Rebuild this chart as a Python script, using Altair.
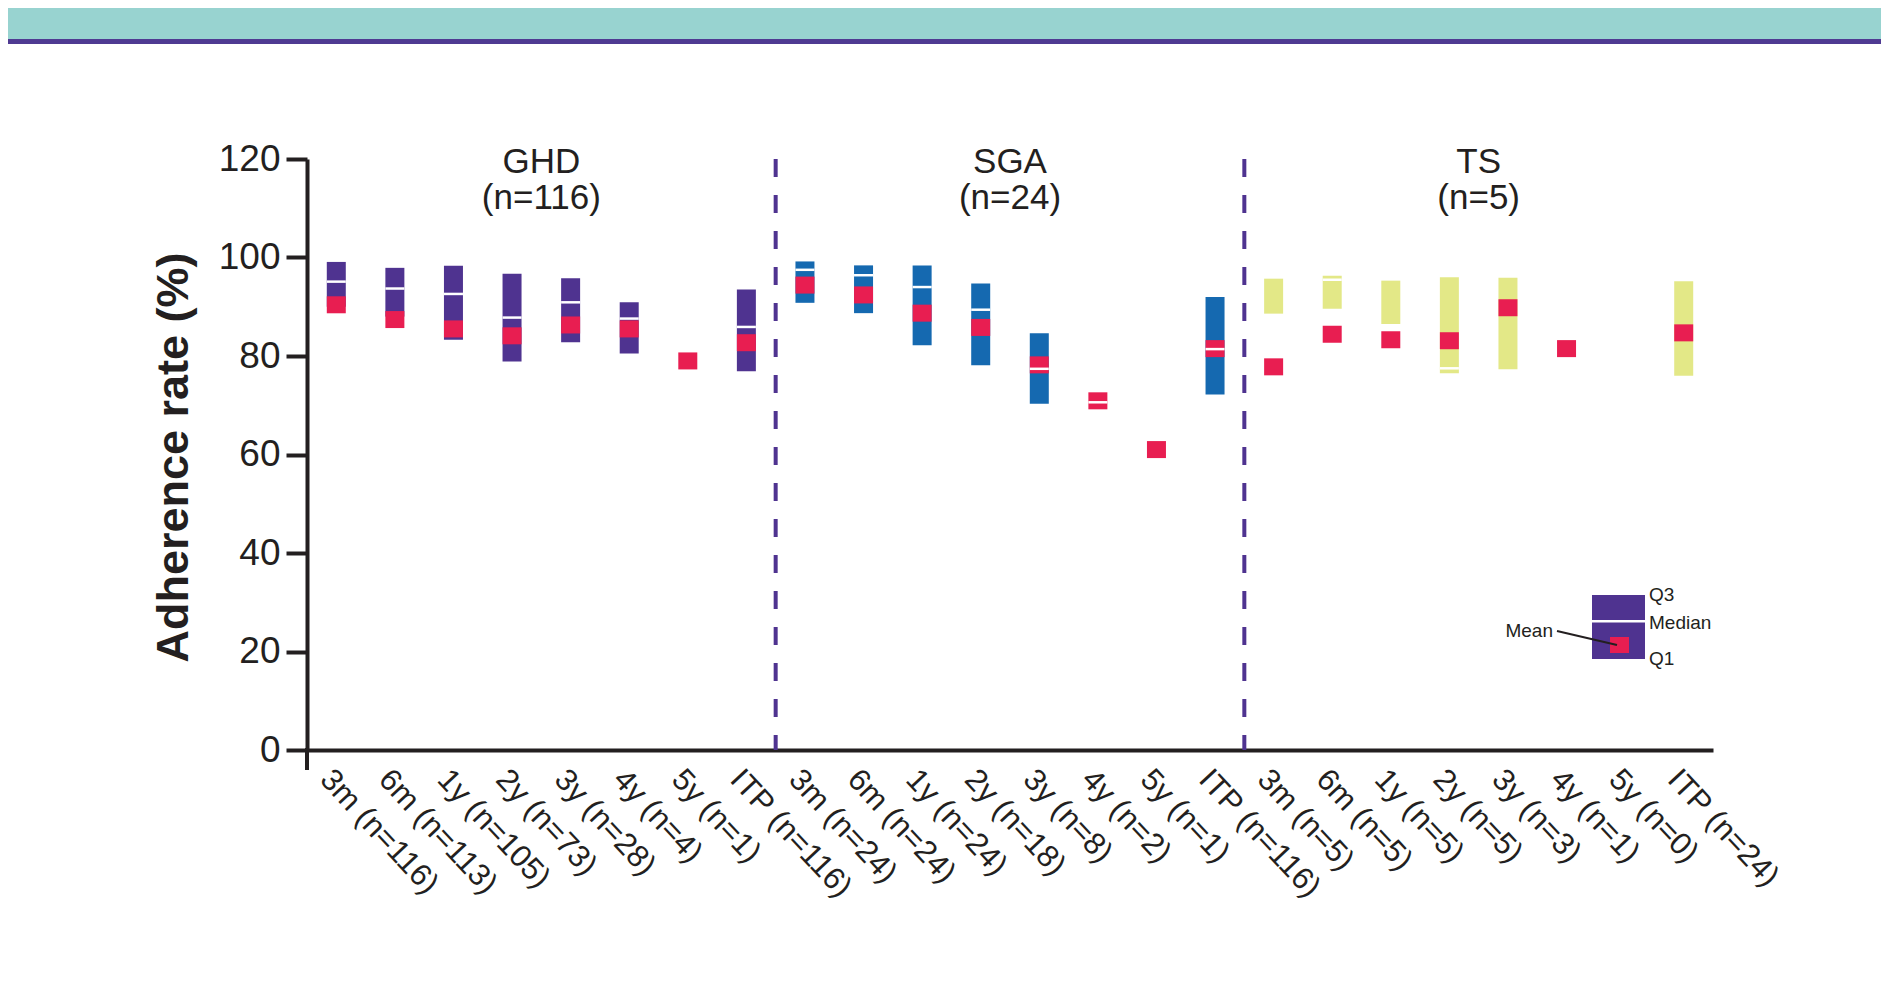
import altair as alt
import pandas as pd

# ---------------- data ----------------
groups = ["GHD"] * 8 + ["SGA"] * 8 + ["TS"] * 8
labels = ["3m (n=116)", "6m (n=113)", "1y (n=105)", "2y (n=73)", "3y (n=28)", "4y (n=4)", "5y (n=1)", "ITP (n=116)",
          "3m (n=24)", "6m (n=24)", "1y (n=24)", "2y (n=18)", "3y (n=8)", "4y (n=2)", "5y (n=1)", "ITP (n=116)",
          "3m (n=5)", "6m (n=5)", "1y (n=5)", "2y (n=5)", "3y (n=3)", "4y (n=1)", "5y (n=0)", "ITP (n=24)"]
q3 = [99.1, 97.9, 98.3, 96.7, 95.8, 90.9, None, 93.5,
      99.2, 98.4, 98.4, 94.7, 84.6, None, None, 92.0,
      95.7, 96.3, 95.3, 96.0, 95.9, None, None, 95.2]
median = [95.1, 93.7, 92.6, 87.8, 90.9, 87.6, None, 85.9,
          97.5, 96.4, 94.0, 89.4, 77.4, 70.6, None, 81.4,
          None, 95.5, None, 77.5, None, None, None, None]
q1 = [90.0, 88.0, 83.3, 78.9, 82.8, 80.5, None, 76.9,
      90.8, 88.7, 82.2, 78.1, 70.3, None, None, 72.2,
      88.6, 89.6, 86.5, 76.5, 77.3, None, None, 76.0]
mean = [90.4, 87.4, 85.5, 84.1, 86.3, 85.5, 79.0, 82.7,
        94.4, 92.4, 88.7, 85.8, 78.2, 70.9, 61.0, 81.5,
        77.8, 84.4, 83.3, 83.1, 89.8, 81.5, None, 84.7]

group_names = ["GHD", "SGA", "TS"]
group_n = ["(n=116)", "(n=24)", "(n=5)"]
group_colors = ["#4f3390", "#1569b0", "#e3e887"]

y_ticks = [0, 20, 40, 60, 80, 100, 120]

# ---------------- styles ----------------
FONT = "Liberation Sans"
DARK = "#231f20"
RED = "#e81e51"
PURPLE = "#4f3390"

keys = [f"{g}|{l}" for g, l in zip(groups, labels)]
gn = dict(zip(group_names, group_n))
df = pd.DataFrame({
    "key": keys, "group": groups, "label": labels,
    "q1": q1, "median": median, "q3": q3, "mean": mean,
    "gn": [gn[g] for g in groups],
})

BOXW = 19


def xenc(**kw):
    return alt.X(
        "key:N", sort=keys,
        scale=alt.Scale(domain=keys, paddingInner=0, paddingOuter=0),
        axis=alt.Axis(
            labelExpr="split(datum.value, '|')[1]", labelAngle=47, labelAlign="left",
            labelBaseline="top", labelFontSize=31, labelFont=FONT, labelColor=DARK,
            labelPadding=14, ticks=False, domainWidth=4, domainColor=DARK,
            labelLimit=500, labelOverlap=False, labelBound=False, labelFlush=False,
            title=None,
        ),
        **kw,
    )


yscale = alt.Scale(domain=[0, 120], nice=False, zero=True)
yaxis = alt.Axis(
    values=y_ticks, domainWidth=4, domainColor=DARK, tickSize=21, tickWidth=4,
    tickColor=DARK, labelFontSize=37, labelFont=FONT, labelColor=DARK, labelPadding=6,
    title="Adherence rate (%)", titleFontSize=45, titleFont=FONT, titleFontWeight="bold",
    titleColor=DARK, titleX=-134, titleY=298, titleAngle=270, titleAlign="center",
    titleBaseline="middle", grid=False,
)

base = alt.Chart(df)

boxes = base.transform_filter("isValid(datum.q1) && isValid(datum.q3)").mark_bar(size=BOXW).encode(
    x=xenc(),
    y=alt.Y("q1:Q", scale=yscale, axis=yaxis),
    y2="q3:Q",
    color=alt.Color("group:N", scale=alt.Scale(domain=group_names, range=group_colors), legend=None),
)

means = base.transform_filter("isValid(datum.mean)").mark_tick(
    thickness=17, size=BOXW, color=RED, opacity=1
).encode(x=xenc(), y=alt.Y("mean:Q", scale=yscale))

medians = base.transform_filter("isValid(datum.median)").mark_tick(
    thickness=2.5, size=BOXW, color="white", opacity=1
).encode(x=xenc(), y=alt.Y("median:Q", scale=yscale))

seps = base.transform_filter(
    "indexof(datum.label, '3m') == 0 && datum.group != 'GHD'"
).mark_rule(color=PURPLE, strokeWidth=4, strokeDash=[18, 18]).encode(
    x=xenc(bandPosition=0), y=alt.datum(120), y2=alt.datum(0)
)

hdr1 = base.transform_filter("indexof(datum.label, '3y') == 0").mark_text(
    fontSize=35, font=FONT, color=DARK, baseline="middle"
).encode(x=xenc(bandPosition=0), y=alt.value(3), text="group:N")

hdr2 = base.transform_filter("indexof(datum.label, '3y') == 0").mark_text(
    fontSize=35, font=FONT, color=DARK, baseline="middle"
).encode(x=xenc(bandPosition=0), y=alt.value(39), text="gn:N")

one = alt.Data(values=[{"a": 1}])

# axis extension below the cross
yext = alt.Chart(one).mark_rule(color=DARK, strokeWidth=4).encode(
    x=alt.value(0), y=alt.value(589), y2=alt.value(611)
)

# top banner
banner = alt.Chart(one).mark_rect(color="#98d3d0").encode(
    x=alt.value(-310), x2=alt.value(1590), y=alt.value(-160), y2=alt.value(-120)
)
banner_line = alt.Chart(one).mark_rect(color="#4f3a92").encode(
    x=alt.value(-310), x2=alt.value(1590), y=alt.value(-120), y2=alt.value(-115)
)

# explanatory key
leg_box = alt.Chart(one).mark_rect(color=PURPLE).encode(
    x=alt.value(1285), x2=alt.value(1338), y=alt.value(436), y2=alt.value(500)
)
leg_med = alt.Chart(one).mark_rect(color="white").encode(
    x=alt.value(1285), x2=alt.value(1338), y=alt.value(461), y2=alt.value(463.5)
)
leg_mean = alt.Chart(one).mark_rect(color=RED).encode(
    x=alt.value(1303), x2=alt.value(1322), y=alt.value(478), y2=alt.value(494)
)
leg_lead = alt.Chart(one).mark_rule(color=DARK, strokeWidth=2).encode(
    x=alt.value(1250), y=alt.value(472), x2=alt.value(1310), y2=alt.value(486)
)


def leg_text(txt, x, y, align="left"):
    return alt.Chart(one).mark_text(
        text=txt, fontSize=19, font=FONT, color=DARK, align=align, baseline="middle"
    ).encode(x=alt.value(x), y=alt.value(y))


leg_texts = [
    leg_text("Q3", 1342, 436),
    leg_text("Median", 1342, 464),
    leg_text("Q1", 1342, 500),
    leg_text("Mean", 1246, 472, align="right"),
]

chart = alt.layer(
    banner, banner_line, boxes, means, medians, seps, hdr1, hdr2, yext,
    leg_box, leg_med, leg_mean, leg_lead, *leg_texts
).properties(
    width=1406, height=591,
    padding={"left": 299, "top": 151, "right": 168, "bottom": 227},
    autosize="none",
    background="white",
).configure_view(stroke=None)

chart.save("out.html", embed_options={"renderer": "svg", "actions": False})
